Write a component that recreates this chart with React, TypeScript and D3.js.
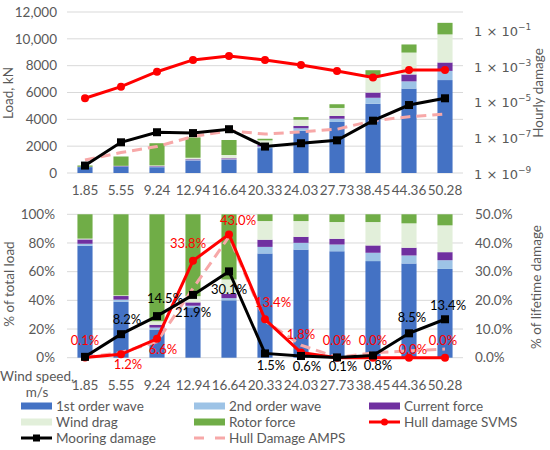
import React from 'react';
import * as d3 from 'd3';

// wind speed bins, m/s
const windSpeeds = ['1.85', '5.55', '9.24', '12.94', '16.64', '20.33', '24.03', '27.73', '38.45', '44.36', '50.28'];

// load components, kN
const firstOrderWave = [437, 480, 433, 930, 985, 1855, 3141, 3804, 5162, 6294, 6927];
const secondOrderWave = [8, 18, 33, 30, 37, 117, 196, 241, 445, 536, 683];
const currentForce = [17, 31, 44, 62, 74, 128, 175, 205, 391, 517, 627];
const windDrag = [3, 6, 55, 115, 246, 332, 458, 599, 1250, 1629, 2093];
const rotorForce = [95, 695, 1655, 1513, 1118, 120, 196, 276, 414, 604, 862];

// hourly damage (log axis)
const svmsHourly = [1.5e-5, 6.7e-5, 4.6e-4, 2.1e-3, 3.5e-3, 2.1e-3, 1.1e-3, 5.0e-4, 2.2e-4, 5.7e-4, 5.7e-4];
const mooringHourly = [2.6e-9, 5.2e-8, 1.9e-7, 1.7e-7, 2.8e-7, 3.0e-8, 4.6e-8, 6.7e-8, 8.4e-7, 6.3e-6, 1.5e-5];
const ampsHourly = [5.3e-9, 1.4e-8, 3.0e-8, 1.1e-7, 2.3e-7, 1.5e-7, 2.0e-7, 2.8e-7, 8.4e-7, 1.4e-6, 2.0e-6];

// share of lifetime damage, %
const svmsShare = [0.1, 1.2, 6.6, 33.8, 43.0, 13.4, 1.8, 0.0, 0.0, 0.0, 0.0];
const mooringShare = [0.3, 8.2, 14.5, 21.9, 30.1, 1.5, 0.6, 0.1, 0.8, 8.5, 13.4];
const ampsShare = [0.1, 1.8, 5.6, 24.2, 42.2, 12.8, 4.4, 0.1, 1.7, 2.4, 3.0];

const loadTicks = [0, 2000, 4000, 6000, 8000, 10000, 12000];
const loadTickLabels = ['0', '2000', '4000', '6000', '8000', '10,000', '12,000'];
const damageExponents = [-9, -7, -5, -3, -1];
const pctTicks = [0, 20, 40, 60, 80, 100];
const lifeTicks = [0, 10, 20, 30, 40, 50];

const components = [
  { name: '1st order wave', values: firstOrderWave, color: '#4472C4' },
  { name: '2nd order wave', values: secondOrderWave, color: '#9DC3E6' },
  { name: 'Current force', values: currentForce, color: '#7030A0' },
  { name: 'Wind drag', values: windDrag, color: '#E2EFDA' },
  { name: 'Rotor force', values: rotorForce, color: '#70AD47' },
];

const RED = '#FF0000';
const PINK = '#F7A8A8';
const GRID = '#D9D9D9';
const TXT = '#595959';
const FONT = 'Lato, "Liberation Sans", sans-serif';

// label offsets [dx, dy] from point; null hides it
const svmsLabelPos: ([number, number] | null)[] = [[0, -17], [7, 10], [6, 11], [-5, -17], [9, -14], [8, -17], [0, -18], [0, -17], [0, -17], [4, -8], [-2, -17]];
const mooringLabelPos: ([number, number] | null)[] = [null, [6, -15], [8, -18], [0, 18], [0, 18], [6, 12], [6, 10.5], [6, 9], [5, 10], [3, -16], [3, -14]];

const W = 550;
const H = 450;
const x0 = 67;
const x1 = 463;

export default function App() {
  const x = d3.scaleBand<string>().domain(windSpeeds).range([x0, x1]).paddingInner(0.58).paddingOuter(0.29);
  const bw = x.bandwidth();
  const cx = (s: string) => (x(s) ?? 0) + bw / 2;

  const yLoad = d3.scaleLinear().domain([0, 12000]).range([173, 12]);
  const yDmg = d3.scaleLog().domain([1e-9, 1]).range([173, 12]);
  const yPct = d3.scaleLinear().domain([0, 100]).range([357.7, 214.3]);
  const yLife = d3.scaleLinear().domain([0, 50]).range([357.7, 214.3]);

  const rows = windSpeeds.map((s, i) => {
    const r: any = { speed: s };
    components.forEach(c => (r[c.name] = c.values[i]));
    return r;
  });
  const keys = components.map(c => c.name);
  const stacked = d3.stack<any>().keys(keys)(rows);
  const stackedPct = d3.stack<any>().keys(keys).offset(d3.stackOffsetExpand)(rows);

  const lineTop = (vals: number[]) =>
    d3.line<number>().x((_, i) => cx(windSpeeds[i])).y(d => yDmg(d))(vals) ?? '';
  const lineBot = (vals: number[]) =>
    d3.line<number>().x((_, i) => cx(windSpeeds[i])).y(d => yLife(d))(vals) ?? '';

  const fmt = d3.format('.1f');

  const square = (px: number, py: number, k: string) => (
    <rect key={k} x={px - 4} y={py - 4} width={8} height={8} fill="#000" />
  );
  const dot = (px: number, py: number, k: string) => <circle key={k} cx={px} cy={py} r={4} fill={RED} />;

  const legend = [
    { name: '1st order wave', kind: 'bar', color: '#4472C4' },
    { name: '2nd order wave', kind: 'bar', color: '#9DC3E6' },
    { name: 'Current force', kind: 'bar', color: '#7030A0' },
    { name: 'Wind drag', kind: 'bar', color: '#E2EFDA' },
    { name: 'Rotor force', kind: 'bar', color: '#70AD47' },
    { name: 'Hull damage SVMS', kind: 'red', color: RED },
    { name: 'Mooring damage', kind: 'black', color: '#000' },
    { name: 'Hull Damage AMPS', kind: 'dash', color: PINK },
  ];
  const legendCols = [21, 194, 369];
  const legendRows = [406, 422, 438];

  return (
    <div style={{ position: 'fixed', left: 0, top: 0 }}>
      <svg width={W} height={H} style={{ display: 'block', background: '#fff' }} fontFamily={FONT}>
        {/* ---------- top panel ---------- */}
        {loadTicks.map((t, i) => (
          <g key={'lt' + t}>
            <line x1={x0} x2={x1} y1={yLoad(t)} y2={yLoad(t)} stroke={GRID} strokeWidth={1} />
            <text x={57} y={yLoad(t)} dy="0.35em" textAnchor="end" fontSize={13.5} fill={TXT}>
              {loadTickLabels[i]}
            </text>
          </g>
        ))}
        {damageExponents.map(e => (
          <text key={'de' + e} x={474} y={yDmg(Math.pow(10, e)) + 1.5} dy="0.35em" fontSize={13} fill={TXT}
            fontFamily='"DejaVu Sans", sans-serif'>
            1 × 10<tspan dy={-6} fontSize={9}>{'\u2212' + Math.abs(e)}</tspan>
          </text>
        ))}
        <text transform={`translate(13,93) rotate(-90)`} textAnchor="middle" fontSize={13.5} fill={TXT}>Load, kN</text>
        <text transform={`translate(543,93) rotate(-90)`} textAnchor="middle" fontSize={13.5} fill={TXT}>Hourly damage</text>
        {stacked.map((layer, li) => (
          <g key={'sb' + li} fill={components[li].color}>
            {layer.map((d, i) => (
              <rect key={i} x={x(windSpeeds[i])} width={bw} y={yLoad(d[1])} height={yLoad(d[0]) - yLoad(d[1])} />
            ))}
          </g>
        ))}
        <path d={lineTop(ampsHourly)} fill="none" stroke={PINK} strokeWidth={3} strokeDasharray="10,6" />
        <path d={lineTop(svmsHourly)} fill="none" stroke={RED} strokeWidth={3} />
        {svmsHourly.map((v, i) => dot(cx(windSpeeds[i]), yDmg(v), 'rt' + i))}
        <path d={lineTop(mooringHourly)} fill="none" stroke="#000" strokeWidth={3} />
        {mooringHourly.map((v, i) => square(cx(windSpeeds[i]), yDmg(v), 'bt' + i))}
        {windSpeeds.map(s => (
          <text key={'xt' + s} x={cx(s)} y={190} dy="0.35em" textAnchor="middle" fontSize={13.5} fill={TXT}>{s}</text>
        ))}

        {/* ---------- bottom panel ---------- */}
        {pctTicks.map(t => (
          <g key={'pt' + t}>
            <line x1={x0} x2={x1} y1={yPct(t)} y2={yPct(t)} stroke={GRID} strokeWidth={1} />
            <text x={55} y={yPct(t)} dy="0.35em" textAnchor="end" fontSize={13.5} fill={TXT}>{t}%</text>
          </g>
        ))}
        {lifeTicks.map(t => (
          <text key={'lf' + t} x={475} y={yLife(t)} dy="0.35em" fontSize={13.5} fill={TXT}>{fmt(t)}%</text>
        ))}
        <text transform={`translate(14,284) rotate(-90)`} textAnchor="middle" fontSize={13.5} fill={TXT}>% of total load</text>
        <text transform={`translate(541,287) rotate(-90)`} textAnchor="middle" fontSize={13.5} fill={TXT}>% of lifetime damage</text>
        {stackedPct.map((layer, li) => (
          <g key={'pb' + li} fill={components[li].color}>
            {layer.map((d, i) => (
              <rect key={i} x={x(windSpeeds[i])} width={bw} y={yPct(d[1] * 100)} height={yPct(d[0] * 100) - yPct(d[1] * 100)} />
            ))}
          </g>
        ))}
        <path d={lineBot(ampsShare)} fill="none" stroke={PINK} strokeWidth={3} strokeDasharray="10,6" />
        <path d={lineBot(svmsShare)} fill="none" stroke={RED} strokeWidth={3} />
        {svmsShare.map((v, i) => dot(cx(windSpeeds[i]), yLife(v), 'rb' + i))}
        <path d={lineBot(mooringShare)} fill="none" stroke="#000" strokeWidth={3} />
        {mooringShare.map((v, i) => square(cx(windSpeeds[i]), yLife(v), 'bb' + i))}
        {svmsShare.map((v, i) => {
          const p = svmsLabelPos[i];
          if (!p) return null;
          return (
            <text key={'rl' + i} x={cx(windSpeeds[i]) + p[0]} y={yLife(v) + p[1]} dy="0.35em" textAnchor="middle" fontSize={13} fill={RED}>
              {fmt(v)}%
            </text>
          );
        })}
        {mooringShare.map((v, i) => {
          const p = mooringLabelPos[i];
          if (!p) return null;
          return (
            <text key={'ml' + i} x={cx(windSpeeds[i]) + p[0]} y={yLife(v) + p[1]} dy="0.35em" textAnchor="middle" fontSize={13} fill="#000">
              {fmt(v)}%
            </text>
          );
        })}
        {windSpeeds.map(s => (
          <text key={'xb' + s} x={cx(s)} y={385} dy="0.35em" textAnchor="middle" fontSize={13.5} fill={TXT}>{s}</text>
        ))}
        <text x={37} y={376} dy="0.35em" textAnchor="middle" fontSize={13.5} fill={TXT}>Wind speed,</text>
        <text x={37} y={392} dy="0.35em" textAnchor="middle" fontSize={13.5} fill={TXT}>m/s</text>

        {/* ---------- legend ---------- */}
        {legend.map((l, i) => {
          const lx = legendCols[i % 3];
          const ly = legendRows[Math.floor(i / 3)];
          return (
            <g key={'lg' + i}>
              {l.kind === 'bar' && <rect x={lx} y={ly - 3.5} width={31} height={7} fill={l.color} />}
              {l.kind === 'red' && (
                <>
                  <line x1={lx} x2={lx + 31} y1={ly} y2={ly} stroke={RED} strokeWidth={3} />
                  <circle cx={lx + 15.5} cy={ly} r={3.5} fill={RED} />
                </>
              )}
              {l.kind === 'black' && (
                <>
                  <line x1={lx} x2={lx + 31} y1={ly} y2={ly} stroke="#000" strokeWidth={3} />
                  <rect x={lx + 12} y={ly - 3.5} width={7} height={7} fill="#000" />
                </>
              )}
              {l.kind === 'dash' && (
                <line x1={lx} x2={lx + 31} y1={ly} y2={ly} stroke={PINK} strokeWidth={3} strokeDasharray="10,11" />
              )}
              <text x={lx + 35} y={ly} dy="0.35em" fontSize={13.5} fill={TXT}>{l.name}</text>
            </g>
          );
        })}
      </svg>
    </div>
  );
}
